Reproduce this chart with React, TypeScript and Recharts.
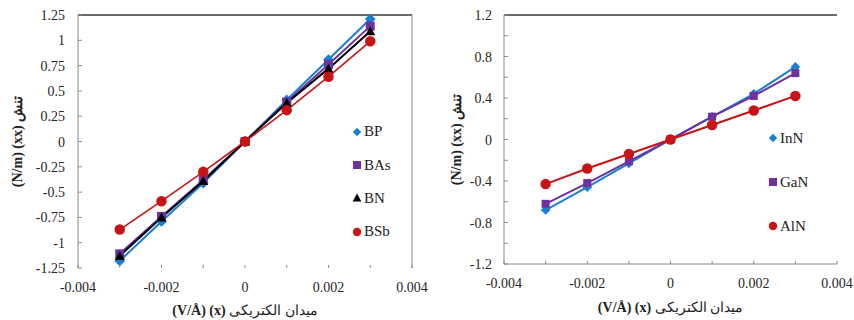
import React from 'react';
import { LineChart, Line, XAxis, YAxis, ReferenceLine, Legend } from 'recharts';

// ---------- data ----------
const fieldValues = [-0.003, -0.002, -0.001, 0, 0.001, 0.002, 0.003];

const bpValues = [-1.18, -0.79, -0.41, 0, 0.41, 0.81, 1.21];
const basValues = [-1.11, -0.74, -0.38, 0, 0.39, 0.76, 1.14];
const bnValues = [-1.13, -0.75, -0.39, 0, 0.38, 0.72, 1.09];
const bsbValues = [-0.87, -0.59, -0.3, 0, 0.31, 0.64, 0.99];

const innValues = [-0.68, -0.46, -0.23, 0, 0.22, 0.44, 0.7];
const ganValues = [-0.62, -0.42, -0.21, 0, 0.22, 0.42, 0.64];
const alnValues = [-0.43, -0.28, -0.14, 0, 0.14, 0.28, 0.42];

const xTicks = [-0.004, -0.003, -0.002, -0.001, 0, 0.001, 0.002, 0.003, 0.004];
const xLabelTicks = [-0.004, -0.002, 0, 0.002, 0.004];
const leftYTicks = [-1.25, -1, -0.75, -0.5, -0.25, 0, 0.25, 0.5, 0.75, 1, 1.25];
const rightYTicks = [-1.2, -1, -0.8, -0.6, -0.4, -0.2, 0, 0.2, 0.4, 0.6, 0.8, 1, 1.2];
const rightYLabelTicks = [-1.2, -0.8, -0.4, 0, 0.4, 0.8, 1.2];

const xTitleLatin = '(V/Å) (x) ';
const xTitleArabic = 'میدان الکتریکی';
const yTitleLatin = '(N/m) (xx) ';
const yTitleArabic = 'تنش';

const leftSeries = [
  { key: 'BP', values: bpValues, color: '#1a7fd2', shape: 'diamond', width: 2 },
  { key: 'BAs', values: basValues, color: '#7030a0', shape: 'square', width: 2 },
  { key: 'BN', values: bnValues, color: '#000000', shape: 'triangle', width: 2 },
  { key: 'BSb', values: bsbValues, color: '#c81414', shape: 'circle', width: 1.6 },
];
const rightSeries = [
  { key: 'InN', values: innValues, color: '#1a7fd2', shape: 'diamond', width: 2 },
  { key: 'GaN', values: ganValues, color: '#7030a0', shape: 'square', width: 2 },
  { key: 'AlN', values: alnValues, color: '#c81414', shape: 'circle', width: 2 },
];

const buildRows = (series: any[]) =>
  fieldValues.map((x, i) => {
    const row: any = { x };
    series.forEach((s) => {
      row[s.key] = s.values[i];
    });
    return row;
  });

const leftData = buildRows(leftSeries);
const rightData = buildRows(rightSeries);

const FONT = "'Liberation Serif', Tinos, 'Times New Roman', serif";
const AXIS_GRAY = '#8a8a8a';

const has = (list: number[], v: number) => list.some((l) => Math.abs(l - v) < 1e-9);
const fmtX = (v: number) => (Math.abs(v) < 1e-12 ? '0' : v.toFixed(3));
const fmtY = (v: number) => String(Math.round(v * 100) / 100);

// ---------- markers ----------
const Marker = ({ shape, cx, cy, size, color }: any) => {
  const h = size / 2;
  if (shape === 'diamond') {
    return (
      <polygon
        points={`${cx},${cy - h * 1.2} ${cx + h * 1.2},${cy} ${cx},${cy + h * 1.2} ${cx - h * 1.2},${cy}`}
        fill={color}
      />
    );
  }
  if (shape === 'square') {
    return <rect x={cx - h} y={cy - h} width={size} height={size} fill={color} />;
  }
  if (shape === 'triangle') {
    return (
      <polygon
        points={`${cx},${cy - h * 1.1} ${cx + h * 1.1},${cy + h * 0.9} ${cx - h * 1.1},${cy + h * 0.9}`}
        fill={color}
      />
    );
  }
  return <circle cx={cx} cy={cy} r={h * 1.05} fill={color} />;
};

const makeDot = (shape: string, color: string, size: number) => (props: any) => {
  const { cx, cy, index } = props;
  if (cx == null || cy == null) return <g key={`d-${index}`} />;
  return (
    <g key={`d-${shape}-${index}`}>
      <Marker shape={shape} cx={cx} cy={cy} size={size} color={color} />
    </g>
  );
};

// ---------- ticks ----------
const YTick = (props: any) => {
  const { x, y, payload, labels, margin } = props;
  const axisX = x + margin;
  const v = payload.value;
  return (
    <g>
      <line x1={axisX} x2={axisX + 4} y1={y} y2={y} stroke={AXIS_GRAY} strokeWidth={1} />
      {has(labels, v) && (
        <text x={x} y={y} dy="0.36em" textAnchor="end" style={{ fontFamily: FONT }} fontSize={14} fill="#262626">
          {fmtY(v)}
        </text>
      )}
    </g>
  );
};

const XTick = (props: any) => {
  const { x, y, payload, margin } = props;
  const axisY = y - margin;
  const v = payload.value;
  return (
    <g>
      <line x1={x} x2={x} y1={axisY} y2={axisY - 3} stroke={AXIS_GRAY} strokeWidth={1} />
      {has(xLabelTicks, v) && (
        <text x={x} y={y} dy="0.75em" textAnchor="middle" style={{ fontFamily: FONT }} fontSize={14} fill="#262626">
          {fmtX(v)}
        </text>
      )}
    </g>
  );
};

// ---------- titles ----------
const XTitle = (props: any) => {
  const vb = props.viewBox || {};
  const cx = vb.x + vb.width / 2 + (props.shift || 0);
  const cy = vb.y + props.dy;
  return (
    <text x={cx} y={cy} textAnchor="middle" style={{ fontFamily: FONT }} fontSize={14} fill="#222" direction="ltr">
      <tspan fontWeight="bold">{xTitleLatin}</tspan>
      <tspan>{xTitleArabic}</tspan>
    </text>
  );
};

const YTitle = (props: any) => {
  const vb = props.viewBox || {};
  const cx = vb.x + props.dx;
  const cy = vb.y + vb.height / 2;
  return (
    <text
      x={cx}
      y={cy}
      transform={`rotate(-90 ${cx} ${cy})`}
      textAnchor="middle"
      dominantBaseline="central"
      style={{ fontFamily: FONT }}
      fontSize={14}
      fontWeight="bold"
      fill="#222"
      direction="ltr"
    >
      <tspan>{yTitleLatin}</tspan>
      <tspan>{yTitleArabic}</tspan>
    </text>
  );
};

// ---------- legend ----------
const LegendBox = ({ series, rowHeight }: any) => (
  <div>
    {series.map((s: any) => (
      <div key={s.key} style={{ height: rowHeight, display: 'flex', alignItems: 'center' }}>
        <svg width={12} height={12} style={{ display: 'block' }}>
          <Marker shape={s.shape} cx={6} cy={6} size={s.shape === 'diamond' ? 7 : 8} color={s.color} />
        </svg>
        <span style={{ fontFamily: FONT, fontSize: 15, color: '#222', marginLeft: 1, lineHeight: 1 }}>{s.key}</span>
      </div>
    ))}
  </div>
);

// ---------- charts ----------
export default function App() {
  return (
    <div style={{ position: 'absolute', left: 0, top: 0, width: 854, height: 320, background: '#fff', fontFamily: FONT }}>
      <div style={{ position: 'absolute', left: 0, top: 0 }}>
        <LineChart width={430} height={320} data={leftData} margin={{ top: 15, right: 18, left: 0, bottom: 0 }}>
          <XAxis
            dataKey="x"
            type="number"
            domain={[-0.004, 0.004]}
            ticks={xTicks}
            interval={0}
            height={52}
            axisLine={false}
            tickLine={false}
            tickSize={0}
            tickMargin={13}
            tick={(p: any) => <XTick {...p} margin={13} />}
            label={<XTitle dy={47} />}
          />
          <YAxis
            type="number"
            domain={[-1.25, 1.25]}
            ticks={leftYTicks}
            interval={0}
            width={78}
            axisLine={{ stroke: AXIS_GRAY, strokeWidth: 1 }}
            tickLine={false}
            tickSize={0}
            tickMargin={13}
            tick={(p: any) => <YTick {...p} margin={13} labels={leftYTicks} />}
            label={<YTitle dx={17} />}
          />
          <ReferenceLine y={1.25} stroke="#3a3a3a" strokeWidth={1.5} />
          <ReferenceLine x={0.004} stroke={AXIS_GRAY} strokeWidth={1} />
          {leftSeries.map((s) => (
            <Line
              key={s.key}
              dataKey={s.key}
              name={s.key}
              stroke={s.color}
              strokeWidth={s.width}
              isAnimationActive={false}
              dot={makeDot(s.shape, s.color, s.shape === 'diamond' ? 9 : s.shape === 'circle' ? 10 : 9)}
              activeDot={false}
            />
          ))}
          <Legend
            layout="vertical"
            align="center"
            verticalAlign="middle"
            wrapperStyle={{ left: 351, top: 115, width: 60 }}
            content={() => <LegendBox series={leftSeries} rowHeight={33.4} />}
          />
        </LineChart>
      </div>
      <div style={{ position: 'absolute', left: 430, top: 0 }}>
        <LineChart width={424} height={320} data={rightData} margin={{ top: 15, right: 17, left: 0, bottom: 0 }}>
          <XAxis
            dataKey="x"
            type="number"
            domain={[-0.004, 0.004]}
            ticks={xTicks}
            interval={0}
            height={56}
            axisLine={{ stroke: AXIS_GRAY, strokeWidth: 1 }}
            tickLine={false}
            tickSize={0}
            tickMargin={13}
            tick={(p: any) => <XTick {...p} margin={13} />}
            label={<XTitle dy={48} />}
          />
          <YAxis
            type="number"
            domain={[-1.2, 1.2]}
            ticks={rightYTicks}
            interval={0}
            width={74}
            axisLine={{ stroke: AXIS_GRAY, strokeWidth: 1 }}
            tickLine={false}
            tickSize={0}
            tickMargin={12}
            tick={(p: any) => <YTick {...p} margin={12} labels={rightYLabelTicks} />}
            label={<YTitle dx={26} />}
          />
          <ReferenceLine y={1.2} stroke="#3a3a3a" strokeWidth={1.5} />
          {rightSeries.map((s) => (
            <Line
              key={s.key}
              dataKey={s.key}
              name={s.key}
              stroke={s.color}
              strokeWidth={s.width}
              isAnimationActive={false}
              dot={makeDot(s.shape, s.color, s.shape === 'diamond' ? 8 : s.shape === 'circle' ? 10 : 8)}
              activeDot={false}
            />
          ))}
          <Legend
            layout="vertical"
            align="center"
            verticalAlign="middle"
            wrapperStyle={{ left: 337, top: 116, width: 60 }}
            content={() => <LegendBox series={rightSeries} rowHeight={44} />}
          />
        </LineChart>
      </div>
    </div>
  );
}
